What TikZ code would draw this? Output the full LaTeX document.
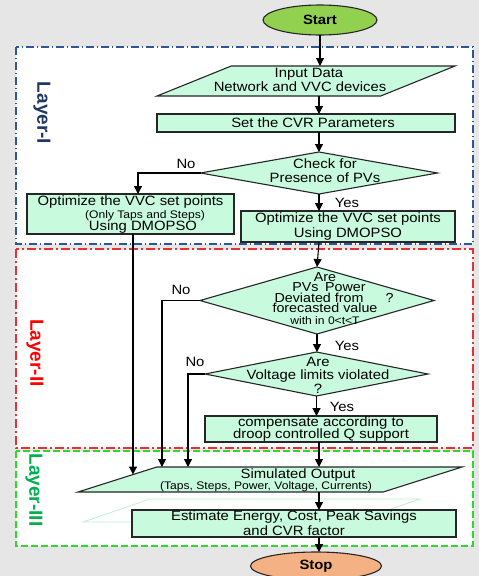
\documentclass[tikz,border=0pt]{standalone}
\usepackage{fontspec}
\setmainfont[FakeStretch=1.1]{Liberation Sans}
\newfontfamily\layerfont{Liberation Sans}
\usetikzlibrary{shapes.geometric,arrows.meta}

\definecolor{pagebg}{RGB}{230,230,230}
\definecolor{boxfill}{RGB}{200,250,222}
\definecolor{ghostline}{RGB}{190,240,205}
\definecolor{startfill}{RGB}{146,208,80}
\definecolor{stopfill}{RGB}{244,177,131}
\definecolor{layerblue}{RGB}{31,56,100}
\definecolor{lineblue}{RGB}{47,85,151}
\definecolor{layerred}{RGB}{255,0,0}
\definecolor{linered}{RGB}{232,48,48}
\definecolor{layergreen}{RGB}{0,176,80}
\definecolor{linegreen}{RGB}{40,220,40}

\tikzset{
  blk/.style={draw=black!85, line width=1.1pt, fill=boxfill, inner sep=0pt, outer sep=0pt,
    align=center, font=\fontsize{13.5}{14}\selectfont},
  dia/.style={blk, shape=diamond},
  para/.style={blk, shape=trapezium, trapezium stretches body=true, inner xsep=0pt, inner ysep=#1},
  term/.style={blk, shape=ellipse, font=\fontsize{13.5}{14}\selectfont\bfseries},
  txt/.style={inner sep=0pt, align=center, font=\fontsize{13.5}{14}\selectfont},
  yn/.style={inner sep=0pt, font=\fontsize{13.5}{14}\selectfont},
  arr/.style={-{Triangle[length=8pt,width=8pt]}, line width=1.1pt},
  lyr/.style={rotate=-90, inner sep=0pt, font=\fontsize{19}{20}\layerfont\bfseries},
  layerbox/.style={fill=white, line width=1.3pt}
}

\begin{document}
\begin{tikzpicture}[x=1pt,y=-1pt]
		%%%%% START %%%%%
		\fill[pagebg] (0,0) rectangle (479,576);
		\useasboundingbox (0,0) rectangle (479,576);
		
		% the three layers
		\draw[layerbox, draw=lineblue, dash pattern=on 8pt off 3pt on 1pt off 3pt] (16,47) rectangle (473,244);
		\draw[layerbox, draw=linered, dash pattern=on 9pt off 3pt on 2pt off 3pt] (16,249) rectangle (473,448);
		\draw[layerbox, draw=linegreen, dash pattern=on 7pt off 3pt] (16,451) rectangle (473,546);
		\node[lyr, text=layerblue] (lyrI) at (42,113) {Layer-I};
		\node[lyr, text=layerred] (lyrII) at (35,353) {Layer-II};
		\node[lyr, text=layergreen] (lyrIII) at (34,490) {Layer-III};
		
		\coordinate (spine) at (319,0);
		\coordinate (noA) at (138,0);
		\coordinate (noB) at (162,0);
		\coordinate (noC) at (188,0);
		\coordinate (simL) at (133,474.5);
		
		% layer I
		\node[term, fill=startfill, minimum width=114, minimum height=30] (start) at (320,20) {Start};
		\node[para=15pt, minimum width=298, trapezium left angle=22, trapezium right angle=158] (input) at (306,81) {};
		\node[txt] (inputT) at (300,79.5) {\hspace*{18pt}Input Data\\Network and VVC devices};
		\node[blk, minimum width=298, minimum height=18] (cvr) at (306,123) {\hspace*{14pt}Set the CVR Parameters};
		\node[dia, minimum width=237, minimum height=42] (chk) at (319,173) {};
		\node[txt] (chkT) at (325,170.5) {Check for\\Presence of PVs};
		\node[blk, minimum width=207, minimum height=40] (optL) at (130.5,214) {};
		\node[txt] (optLT) at (130.5,215) {Optimize the VVC set points\\[-1pt]
			\hspace*{29pt}{\fontsize{11}{12}\selectfont(Only Taps and Steps)}\\[-2pt]
			\hspace*{25pt}Using DMOPSO};
		\node[blk, minimum width=214, minimum height=31] (optR) at (348,226.5) {Optimize the VVC set points\\[1pt]Using DMOPSO};
		
		\draw[arr] (start.south) -- (start.south |- input.north);
		\draw[arr] (spine |- input.south) -- (spine |- cvr.north);
		\draw[arr] (spine |- cvr.south) -- (chk.north);
		\draw[arr] (chk.west) -| (noA |- optL.north);
		\node[yn] (noI) at (186,164) {No};
		\draw[arr] (chk.south) -- (chk.south |- optR.north);
		\node[yn] (yesI) at (347,203) {Yes};
		
		% layer II
		\node[dia, minimum width=234, minimum height=67] (dev) at (317,300.5) {};
		\node[txt, font=\fontsize{13}{10.4}\selectfont] (devT) at (325,298.5) {Are\\
			\hspace*{8pt}PVs\enspace Power\\
			\hspace*{18pt}Deviated from\hspace{22pt}?\\
			forecasted value\\[1.5pt]
			{\fontsize{11}{11}\selectfont with in 0<t<T}};
		\node[dia, minimum width=223, minimum height=44] (volt) at (316.5,374) {};
		\node[txt] (voltT) at (318,375) {Are\\[-1pt]Voltage limits violated\\[0pt]?};
		\node[blk, minimum width=232, minimum height=26] (comp) at (321,429) {compensate according to\\[-2pt]droop controlled Q support};
		
		\draw[arr] (spine |- optR.south) -- (dev.north);
		\draw[arr] (dev.south) -- (dev.south |- volt.north);
		\node[yn] (yesII) at (347,346) {Yes};
		\draw[arr] (volt.south) -- (volt.south |- comp.north);
		\node[yn] (yesIII) at (342,407) {Yes};
		\node[yn] (noII) at (181,290) {No};
		\node[yn] (noIII) at (195,362) {No};
		
		% layer III
		\draw[draw=ghostline, line width=0.8pt] (150,499) -- (420,499) -- (353,522) -- (83,522) -- cycle;
		\node[para=12.5pt, minimum width=384, trapezium left angle=17.6, trapezium right angle=162.4] (sim) at (270,479.5) {};
		\node[txt] (simT) at (298,475) {Simulated Output};
		\node[txt, font=\fontsize{11}{12}\selectfont] (simS) at (266,487) {(Taps, Steps, Power, Voltage, Currents)};
		\node[blk, minimum width=324, minimum height=27] (est) at (294,523.5) {Estimate Energy, Cost, Peak Savings\\[1pt]and CVR factor};
		\node[term, fill=stopfill, minimum width=131, minimum height=28] (stop) at (316,566) {Stop};
		
		\draw[arr] (spine |- comp.south) -- (spine |- sim.north);
		\draw[arr] (dev.west) -| (noB |- sim.north);
		\draw[arr] (volt.west) -| (noC |- sim.north);
		\draw[arr] (optL.south -| simL) -- (simL);
		\draw[arr] (spine |- sim.south) -- (spine |- est.north);
		\draw[arr] (spine |- est.south) -- (spine |- stop.north);
		
		%%%%% END %%%%%
\end{tikzpicture}
\end{document}
